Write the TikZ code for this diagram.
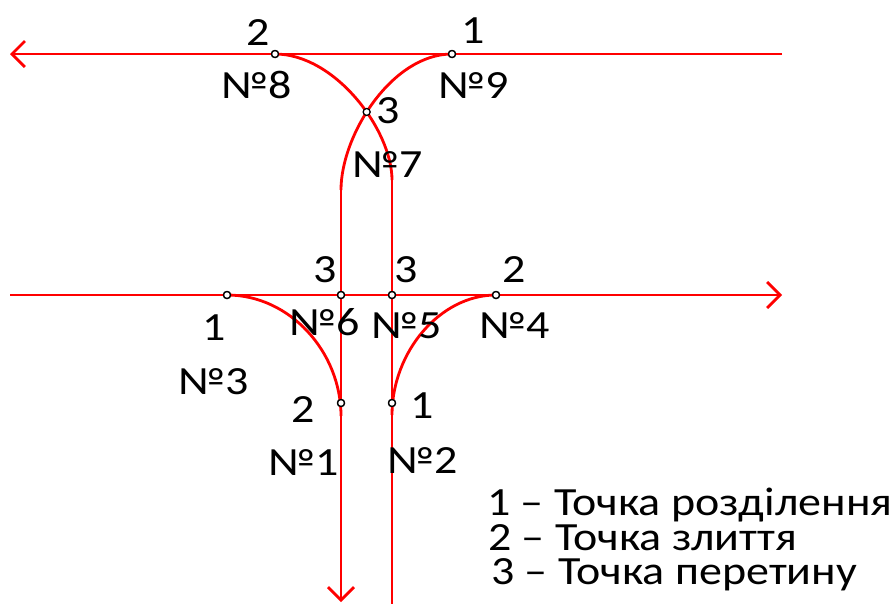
\documentclass[tikz,border=0pt]{standalone}
\usepackage{fontspec}
\setmainfont{Carlito}
\usetikzlibrary{arrows.meta,intersections}

% text is set slightly wide
\newcommand\widetext[1]{\scalebox{1.15}[1]{#1}}

\tikzset{
  track/.style={draw=red, line width=2.8pt},
  tip/.style={-{Straight Barb[length=13pt,width=26pt]}},
  pt/.style={circle, draw=black, fill=white, line width=1.3pt, inner sep=0pt, minimum size=7pt},
  lab/.style={anchor=base, inner sep=0pt, font=\fontsize{40}{40}\selectfont},
  leg/.style={anchor=north west, inner sep=0pt, align=left, font=\fontsize{40}{34.5}\selectfont}
}

\begin{document}
\begin{tikzpicture}[x=1pt, y=-1pt]
\useasboundingbox (0,0) rectangle (896,603);

% free ends of the tracks
\coordinate (tR) at (782,54);
\coordinate (tL) at (10,54);
\coordinate (hL) at (10,295);
\coordinate (hR) at (782,295);
\coordinate (vL) at (341,190);
\coordinate (vR) at (392,180);
\coordinate (bL) at (341,602);
\coordinate (bR) at (392,604);
\coordinate (cL) at (341,416);
\coordinate (cR) at (392,415);

% switch points
\node[pt] (n8) at (275,54) {};
\node[pt] (n9) at (452,54) {};
\node[pt] (n3) at (227,295) {};
\node[pt] (n6) at (341,295) {};
\node[pt] (n5) at (392,295) {};
\node[pt] (n4) at (496,295) {};
\node[pt] (n1) at (341,403) {};
\node[pt] (n2) at (392,403) {};

% upper main line and the two crossing curves
\draw[track, tip] (tR) -- (tL);
\draw[track, name path=ca] (n8.center) .. controls (335,54) and (392,130) .. (vR);
\draw[track, name path=cb] (n9.center) .. controls (392,54) and (341,135) .. (vL);

% vertical tracks
\draw[track, tip] (vL) -- (bL);
\draw[track] (vR) -- (bR);

% lower main line and its branches
\draw[track, tip] (hL) -- (hR);
\draw[track] (n3.center) .. controls (290,295) and (341,352) .. (cL);
\draw[track] (n4.center) .. controls (440,295) and (392,352) .. (cR);

% redraw the points on top of the tracks
\path[name intersections={of=ca and cb, by=x7}];
\node[pt] (n7) at (x7) {};
\foreach \p in {n8,n9,n3,n6,n5,n4,n1,n2}
  \node[pt] at (\p) {};

% point labels
\node[lab] (l8a) at (258,45) {\widetext{2}};
\node[lab] (l8b) at (257,98) {\widetext{№8}};
\node[lab] (l9a) at (473,43) {\widetext{1}};
\node[lab] (l9b) at (474,98) {\widetext{№9}};
\node[lab] (l7a) at (388,123) {\widetext{3}};
\node[lab] (l7b) at (388,177) {\widetext{№7}};
\node[lab] (l6a) at (325,282) {\widetext{3}};
\node[lab] (l6b) at (325,335) {\widetext{№6}};
\node[lab] (l5a) at (406,282) {\widetext{3}};
\node[lab] (l5b) at (407,338) {\widetext{№5}};
\node[lab] (l4a) at (514,282) {\widetext{2}};
\node[lab] (l4b) at (515,338) {\widetext{№4}};
\node[lab] (l3a) at (214,340) {\widetext{1}};
\node[lab] (l3b) at (214,394) {\widetext{№3}};
\node[lab] (l1a) at (303,422) {\widetext{2}};
\node[lab] (l1b) at (304,475) {\widetext{№1}};
\node[lab] (l2a) at (422,418) {\widetext{1}};
\node[lab] (l2b) at (423,473) {\widetext{№2}};

% legend
\node[leg] (leg) at (487,488) {%
  \widetext{1 – Точка розділення}\\
  \hspace*{1pt}\widetext{2 – Точка злиття}\\
  \hspace*{4pt}\widetext{3 – Точка перетину}};
\end{tikzpicture}
\end{document}
